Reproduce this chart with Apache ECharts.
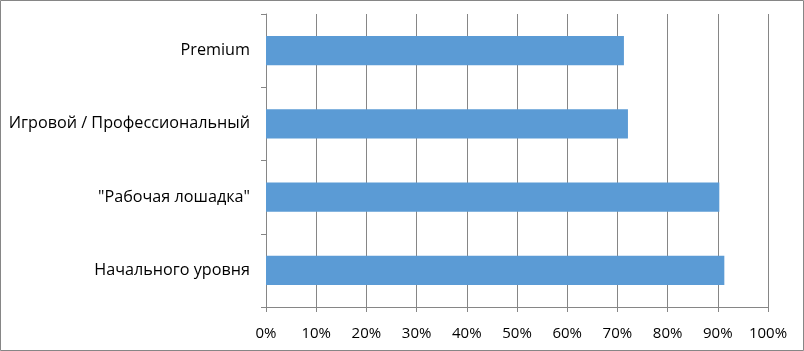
<!DOCTYPE html>
<html><head><meta charset="utf-8">
<script src="https://cdn.jsdelivr.net/npm/echarts@6/dist/echarts.min.js"></script>
<style>html,body{margin:0;padding:0;background:#fff}#c{width:804px;height:351px}</style>
</head><body><div id="c"></div>
<script>
const categories = ['Начального уровня', '"Рабочая лошадка"', 'Игровой / Профессиональный', 'Premium'];
const values = [91.3, 90.3, 72.1, 71.3];
const xTicks = [0, 10, 20, 30, 40, 50, 60, 70, 80, 90, 100];

const chart = echarts.init(document.getElementById('c'), null, {renderer: 'canvas'});
const font = "'Open Sans', sans-serif";
chart.setOption({
  animation: false,
  graphic: [{type: 'rect', shape: {x: 0.5, y: 0.5, width: 803, height: 350}, style: {fill: 'none', stroke: '#868686', lineWidth: 1}}],
  grid: {left: 266, right: 36, top: 14, bottom: 44, containLabel: false},
  xAxis: {
    type: 'value', min: xTicks[0], max: xTicks[xTicks.length - 1], interval: 10,
    axisLine: {show: true, lineStyle: {color: '#868686'}},
    axisTick: {show: true, length: 5, lineStyle: {color: '#868686'}},
    splitLine: {show: true, lineStyle: {color: '#868686', width: 1}},
    axisLabel: {formatter: v => v + '%', color: '#000', fontFamily: font, fontSize: 15, margin: 19}
  },
  yAxis: {
    type: 'category', data: categories,
    axisLine: {show: true, lineStyle: {color: '#868686'}},
    axisTick: {show: true, length: 5, lineStyle: {color: '#868686'}},
    axisLabel: {color: '#000', fontFamily: font, fontSize: 16.2, margin: 16}
  },
  series: [{type: 'bar', data: values, barCategoryGap: '60%', itemStyle: {color: '#5b9bd5'}}]
});
</script></body></html>
